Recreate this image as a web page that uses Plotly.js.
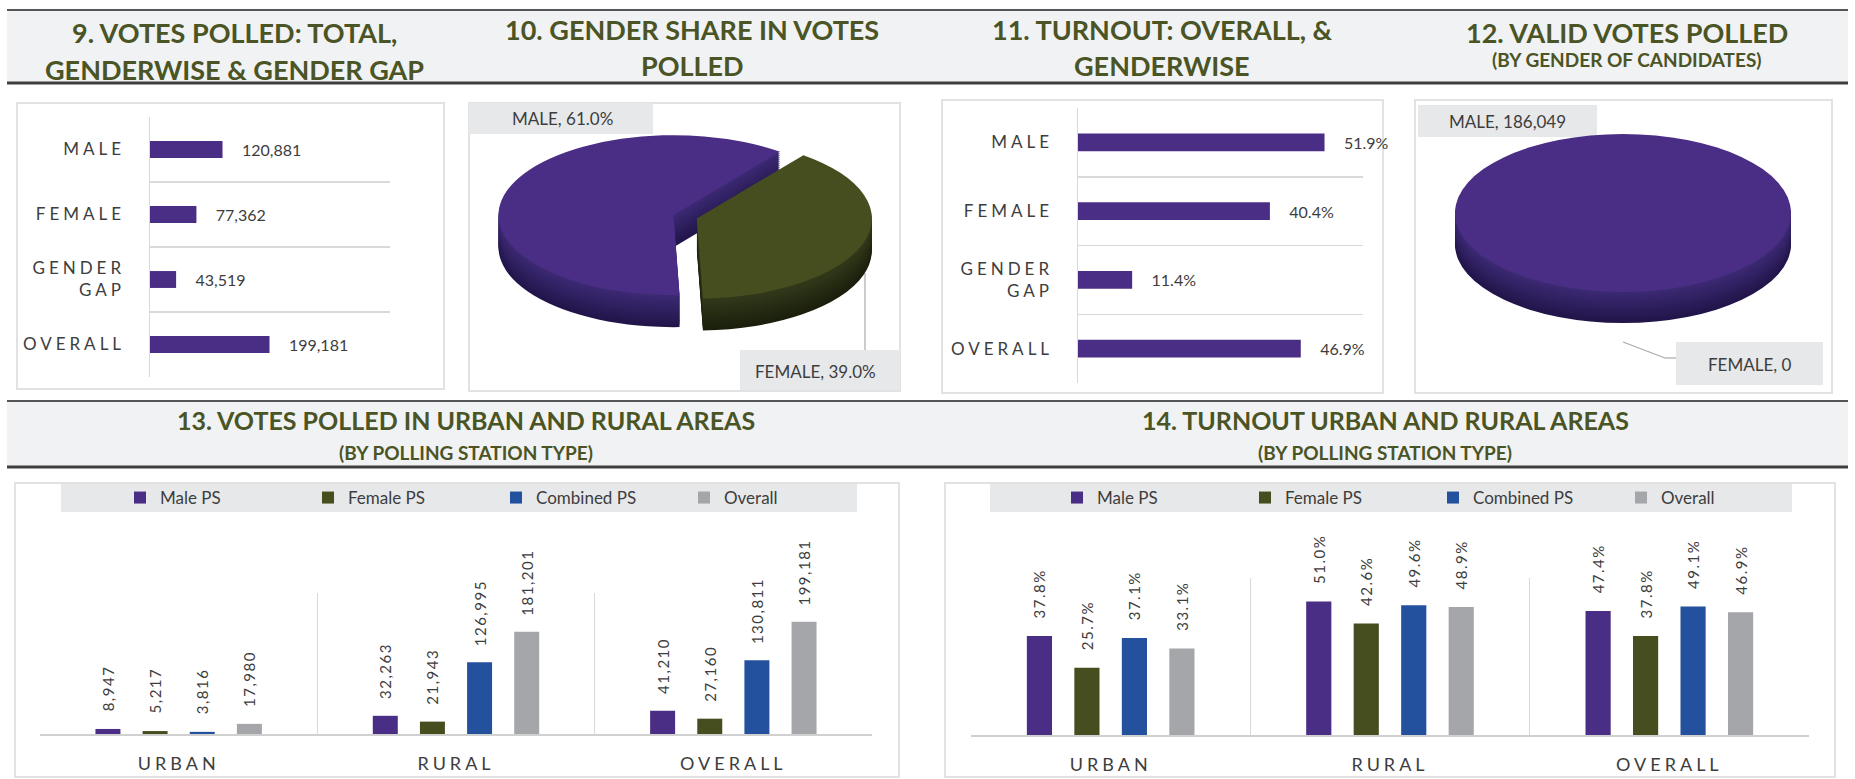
<!DOCTYPE html>
<html>
<head>
<meta charset="utf-8">
<script src="https://cdn.plot.ly/plotly-3.0.1.min.js"></script>
<style>
html,body{margin:0;padding:0;background:#ffffff;}
#wrap{position:relative;width:1855px;height:779px;overflow:hidden;}
#main{position:absolute;left:0;top:0;width:1855px;height:779px;}
.pie{position:absolute;transform-origin:0 0;pointer-events:none;background:transparent;}
.pie .svg-container, .pie .main-svg, .pie .plot-container{background:transparent !important;}
g.ytick text, g.y2tick text, g.x3tick text, g.x4tick text{letter-spacing:4px;}
.x3y3 text.bartext, .x4y4 text.bartext{letter-spacing:1.5px;}
</style>
</head>
<body>
<div id="wrap">
  <div id="main"></div>
  <div id="pie10" class="pie"></div>
  <div id="pie12" class="pie"></div>
</div>
<script>
// ---------------- DATA ----------------
const genderCats = ['MALE', 'FEMALE', 'GENDER<br>GAP', 'OVERALL'];
const votesPolled = [120881, 77362, 43519, 199181];
const turnoutPct = [51.9, 40.4, 11.4, 46.9];

const pieGender = ['MALE', 'FEMALE'];
const genderShareVotes = [120881, 77362];
const validVotesByCandGender = [186049, 0];

const areas = ['URBAN', 'RURAL', 'OVERALL'];
const psTypes = ['Male PS', 'Female PS', 'Combined PS', 'Overall'];
const votesMalePS = [8947, 32263, 41210];
const votesFemalePS = [5217, 21943, 27160];
const votesCombinedPS = [3816, 126995, 130811];
const votesOverallPS = [17980, 181201, 199181];
const turnoutMalePS = [37.8, 51.0, 47.4];
const turnoutFemalePS = [25.7, 42.6, 37.8];
const turnoutCombinedPS = [37.1, 49.6, 49.1];
const turnoutOverallPS = [33.1, 48.9, 46.9];

const titles = {
  t9: ['9. VOTES POLLED: TOTAL,', 'GENDERWISE & GENDER GAP'],
  t10: ['10. GENDER SHARE IN VOTES', 'POLLED'],
  t11: ['11. TURNOUT: OVERALL, &', 'GENDERWISE'],
  t12: ['12. VALID VOTES POLLED', '(BY GENDER OF CANDIDATES)'],
  t13: ['13. VOTES POLLED IN URBAN AND RURAL AREAS', '(BY POLLING STATION TYPE)'],
  t14: ['14. TURNOUT URBAN AND RURAL AREAS', '(BY POLLING STATION TYPE)']
};

// ---------------- STYLE ----------------
const W = 1855, H = 779;
const PURPLE = '#4a2d84', OLIVE = '#464e1f', BLUE = '#24519d', GREY = '#a5a6aa';
const TF = "Lato, 'Open Sans', sans-serif";
const TC = '#4a5424';
const LF = "Lato, 'Open Sans', sans-serif";
const LC = '#3d3d3d';
const GRID = '#d9d9d9';
const NB = '\u00a0\u00a0\u00a0\u00a0';

const fx = x => x / W;
const fy = y => 1 - y / H;

function rect(x0, y0, x1, y1, fill, lineColor, lw, layer) {
  return {type: 'rect', xref: 'paper', yref: 'paper', x0: fx(x0), x1: fx(x1), y0: fy(y1), y1: fy(y0),
    fillcolor: fill, line: {color: lineColor || 'rgba(0,0,0,0)', width: lw || 0}, layer: layer || 'below'};
}
function seg(x0, y0, x1, y1, color, w) {
  return {type: 'line', xref: 'paper', yref: 'paper', x0: fx(x0), y0: fy(y0), x1: fx(x1), y1: fy(y1),
    line: {color: color, width: w}, layer: 'below'};
}
function txt(text, x, y, size, opts) {
  opts = opts || {};
  return {text: text, x: fx(x), y: fy(y), xref: 'paper', yref: 'paper', showarrow: false,
    xanchor: opts.xanchor || 'center', yanchor: 'middle',
    font: {family: opts.family || TF, size: size, color: opts.color || TC, weight: opts.weight || 'bold'}};
}

// ---------------- SHAPES ----------------
const shapes = [
  rect(7, 10, 1848, 83, '#f1f2f4'),
  seg(7, 10, 1848, 10, '#555555', 2),
  seg(7, 83, 1848, 83, '#3f3f3f', 3),
  rect(7, 401, 1848, 467, '#f1f2f4'),
  seg(7, 401, 1848, 401, '#555555', 2),
  seg(7, 467, 1848, 467, '#3f3f3f', 3),
  rect(17, 103, 444, 389, '#ffffff', '#e2e2e2', 2),
  rect(469, 103, 900, 391, '#ffffff', '#e2e2e2', 2),
  rect(942, 100, 1383, 393, '#ffffff', '#e2e2e2', 2),
  rect(1415, 100, 1832, 393, '#ffffff', '#e2e2e2', 2),
  rect(15, 483, 899, 777, '#ffffff', '#e2e2e2', 2),
  rect(945, 483, 1835, 777, '#ffffff', '#e2e2e2', 2),
  rect(61, 484, 857, 512, '#e7e8ea'),
  rect(990, 484, 1792, 512, '#e7e8ea'),
  rect(469, 103, 653, 134, '#e7e8ea'),
  rect(740, 350, 900, 390, '#e7e8ea'),
  rect(1418, 105, 1597, 137, '#e7e8ea'),
  rect(1676, 342, 1823, 385, '#e7e8ea'),
  seg(865, 273, 865, 350, '#a8a8a8', 1.2),
  seg(1623, 342, 1665, 358, '#a8a8a8', 1.2),
  seg(1665, 358, 1676, 358, '#a8a8a8', 1.2)
];

// ---------------- ANNOTATIONS ----------------
const pieSum = genderShareVotes.reduce((a, b) => a + b, 0);
const pie10Text = pieGender.map((g, i) => g + ', ' + (genderShareVotes[i] / pieSum * 100).toFixed(1) + '%');
const pie12Text = pieGender.map((g, i) => g + ', ' + validVotesByCandGender[i].toLocaleString('en-US'));
const lblOpts = {family: LF, color: LC, weight: 'normal'};

const annotations = [
  txt(titles.t9[0], 234, 32, 27), txt(titles.t9[1], 234, 70, 27),
  txt(titles.t10[0], 692, 30, 27), txt(titles.t10[1], 692, 66, 27),
  txt(titles.t11[0], 1162, 30, 27), txt(titles.t11[1], 1162, 66, 27),
  txt(titles.t12[0], 1627, 32, 27), txt(titles.t12[1], 1627, 59, 19),
  txt(titles.t13[0], 466, 420, 25), txt(titles.t13[1], 466, 453, 19),
  txt(titles.t14[0], 1385, 420, 25), txt(titles.t14[1], 1385, 453, 19),
  txt(pie10Text[0], 562, 119, 17, lblOpts),
  txt(pie10Text[1], 815, 371, 17, lblOpts),
  txt(pie12Text[0], 1507, 121, 17, lblOpts),
  txt(pie12Text[1], 1749, 364, 17, lblOpts)
];

// ---------------- TRACES ----------------
const hBase = {type: 'bar', orientation: 'h', width: 0.26, textposition: 'outside', textangle: 0,
  constraintext: 'none', cliponaxis: false, showlegend: false, hoverinfo: 'skip',
  marker: {color: PURPLE, line: {width: 0}},
  outsidetextfont: {family: LF, size: 16, color: LC}};

const traces = [];
traces.push(Object.assign({}, hBase, {x: votesPolled, y: genderCats, xaxis: 'x', yaxis: 'y',
  texttemplate: NB + '%{x:,}'}));
traces.push(Object.assign({}, hBase, {x: turnoutPct, y: genderCats, xaxis: 'x2', yaxis: 'y2',
  texttemplate: NB + '%{x:.1f}%'}));

const psColors = [PURPLE, OLIVE, BLUE, GREY];
const votesSeries = [votesMalePS, votesFemalePS, votesCombinedPS, votesOverallPS];
const turnSeries = [turnoutMalePS, turnoutFemalePS, turnoutCombinedPS, turnoutOverallPS];
const vBase = {type: 'bar', textposition: 'outside', textangle: -90, constraintext: 'none',
  cliponaxis: false, hoverinfo: 'skip', outsidetextfont: {family: LF, size: 15, color: LC}};
psTypes.forEach((name, i) => {
  traces.push(Object.assign({}, vBase, {name: name, x: areas, y: votesSeries[i], xaxis: 'x3', yaxis: 'y3',
    marker: {color: psColors[i], line: {width: 0}}, texttemplate: NB + '%{y:,}', legend: 'legend'}));
});
psTypes.forEach((name, i) => {
  traces.push(Object.assign({}, vBase, {name: name, x: areas, y: turnSeries[i], xaxis: 'x4', yaxis: 'y4',
    marker: {color: psColors[i], line: {width: 0}}, texttemplate: NB + '%{y:.1f}%', legend: 'legend2'}));
});

// ---------------- AXES ----------------
const hidden = {showgrid: false, zeroline: false, showline: false, showticklabels: false, ticks: ''};
const catY = {type: 'category', categoryorder: 'array', categoryarray: genderCats, autorange: 'reversed',
  tickson: 'boundaries', showgrid: true, gridcolor: GRID, gridwidth: 1.5, showline: true, linecolor: GRID,
  linewidth: 1.5, zeroline: false, ticks: '', ticklabelstandoff: 20,
  tickfont: {family: LF, size: 17, color: LC}};
const catX = {type: 'category', tickson: 'boundaries', showgrid: true, gridcolor: GRID, gridwidth: 1.5,
  showline: true, linecolor: '#d0d0d0', linewidth: 2, zeroline: false, ticks: '', ticklabelstandoff: 12,
  tickfont: {family: LF, size: 18, color: LC}};

const legBase = {orientation: 'h', xanchor: 'left', yanchor: 'middle', bgcolor: 'rgba(0,0,0,0)',
  font: {family: LF, size: 17, color: LC}, entrywidth: 143, entrywidthmode: 'pixels',
  traceorder: 'normal', itemclick: false, itemdoubleclick: false};

const layout = {
  width: W, height: H, margin: {l: 0, r: 0, t: 0, b: 0, autoexpand: false},
  paper_bgcolor: '#ffffff', plot_bgcolor: 'rgba(0,0,0,0)',
  barmode: 'group', bargap: 0.32, bargroupgap: 0.47,
  showlegend: true,
  xaxis: Object.assign({}, hidden, {domain: [fx(150), fx(390)], range: [0, 400000], anchor: 'y'}),
  yaxis: Object.assign({}, catY, {domain: [fy(377), fy(117)], anchor: 'x'}),
  xaxis2: Object.assign({}, hidden, {domain: [fx(1078), fx(1363)], range: [0, 60], anchor: 'y2'}),
  yaxis2: Object.assign({}, catY, {domain: [fy(383), fy(108)], anchor: 'x2'}),
  xaxis3: Object.assign({}, catX, {domain: [fx(40), fx(872)], anchor: 'y3', categoryorder: 'array', categoryarray: areas}),
  yaxis3: Object.assign({}, hidden, {domain: [fy(734), fy(593)], range: [0, 250000], anchor: 'x3'}),
  xaxis4: Object.assign({}, catX, {domain: [fx(971), fx(1809)], anchor: 'y4', categoryorder: 'array', categoryarray: areas}),
  yaxis4: Object.assign({}, hidden, {domain: [fy(735), fy(578)], range: [0, 60], anchor: 'x4'}),
  legend: Object.assign({}, legBase, {x: fx(120), y: fy(498)}),
  legend2: Object.assign({}, legBase, {x: fx(1057), y: fy(498)}),
  shapes: shapes,
  annotations: annotations
};

Plotly.newPlot('main', traces, layout, {staticPlot: true, displayModeBar: false});

// ---------------- 3D-LOOK PIES ----------------
function hex2rgb(h) { return [1, 3, 5].map(i => parseInt(h.substr(i, 2), 16)); }
function mix(a, b, t) {
  const A = hex2rgb(a), B = hex2rgb(b);
  return 'rgb(' + A.map((v, i) => Math.round(v + (B[i] - v) * t)).join(',') + ')';
}
const sideTop = ['#3b2972', '#31381a'];
const sideBottom = ['#22154a', '#1b1f0c'];

function drawPie(id, cx, cy, R, pull, T, s, values, rotation) {
  const pm = Math.max.apply(null, pull);
  const D = 2 * R * (1 + pm);
  const Ht = D + T;
  const el = document.getElementById(id);
  el.style.left = (cx - D / 2) + 'px';
  el.style.top = (cy - (D / 2) * s) + 'px';
  el.style.width = D + 'px';
  el.style.height = Ht + 'px';
  el.style.transform = 'scaleY(' + s + ')';
  const base = {type: 'pie', values: values, labels: pieGender, sort: false, direction: 'clockwise',
    rotation: rotation, pull: pull, textinfo: 'none', hoverinfo: 'skip', showlegend: false};
  const data = [];
  const NL = 16;
  for (let k = NL; k >= 1; k--) {
    const t = T * k / NL;
    const f = (k - 1) / (NL - 1);
    data.push(Object.assign({}, base, {
      marker: {colors: [mix(sideTop[0], sideBottom[0], f), mix(sideTop[1], sideBottom[1], f)], line: {width: 0}},
      domain: {x: [0, 1], y: [(T - t) / Ht, (Ht - t) / Ht]}}));
  }
  data.push(Object.assign({}, base, {marker: {colors: [PURPLE, OLIVE], line: {width: 0}},
    domain: {x: [0, 1], y: [T / Ht, 1]}}));
  Plotly.newPlot(el, data, {width: D, height: Ht, margin: {l: 0, r: 0, t: 0, b: 0},
    paper_bgcolor: 'rgba(0,0,0,0)', plot_bgcolor: 'rgba(0,0,0,0)', showlegend: false},
    {staticPlot: true, displayModeBar: false});
}

drawPie('pie10', 673, 215, 175, [0, 0.14], 70, 0.457, genderShareVotes, 178);
drawPie('pie12', 1623, 213, 168, [0, 0], 66, 0.47, validVotesByCandGender, 0);
</script>
</body>
</html>
